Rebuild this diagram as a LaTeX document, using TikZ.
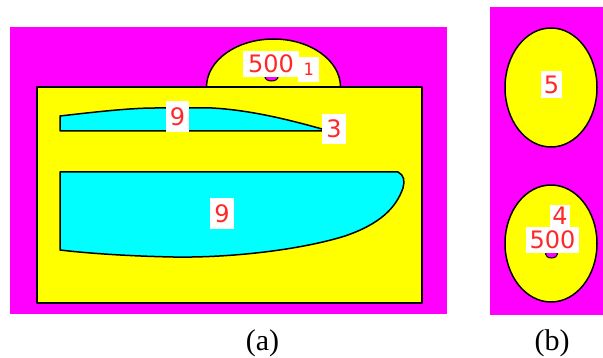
\documentclass[tikz,border=0pt]{standalone}
\usepackage{fontspec}
\setmainfont{Liberation Serif}
\newfontfamily\lblsans{DejaVu Sans}
\newfontfamily\lblmono{DejaVu Sans Mono}
\definecolor{mag}{RGB}{255,0,255}
\definecolor{yel}{RGB}{255,255,0}
\definecolor{cya}{RGB}{0,255,255}
\definecolor{lblred}{RGB}{255,40,40}
\tikzset{
  outl/.style={draw=black,line width=1.5pt,line join=round},
  lbl/.style={fill=white,text=lblred,inner sep=0pt,font=\lblsans\fontsize{24}{24}\selectfont},
  captxt/.style={inner sep=0pt,font=\fontsize{30}{30}\selectfont,anchor=base}
}
\begin{document}
\begin{tikzpicture}[x=1pt,y=-1pt]
\useasboundingbox (0,0) rectangle (603,358);
% panel (a)
\fill[mag] (10,27) rectangle (447,314);
\draw[outl,fill=yel] (206.5,87) arc[start angle=180,end angle=360,x radius=67,y radius=48];
\draw[outl,fill=yel] (37,87) rectangle (422,303);
% thin cyan shape
\draw[outl,fill=cya] (60,131) -- (60,116)
  .. controls (95,112) and (130,108) .. (155,108)
  -- (212,108)
  .. controls (250,110) and (290,120) .. (322,129)
  -- (322,131) -- cycle;
% big cyan shape
\draw[outl,fill=cya] (60,250) -- (60,172) -- (398,172)
  .. controls (404,175) and (405,181) .. (403,188)
  .. controls (396,208) and (380,224) .. (345,236)
  .. controls (300,250) and (230,258) .. (173,257)
  .. controls (125,256) and (85,253) .. (60,250) -- cycle;
\draw[black,line width=1pt,fill=mag] (271.5,77) ellipse[x radius=6.5,y radius=4];
\node[lbl,minimum width=56,minimum height=26] (a500) at (271,64) {500};
\node[lbl,minimum width=21,minimum height=25,font=\lblmono\fontsize{17}{17}\selectfont] (a1) at (308.5,69.5) {1};
\node[lbl,minimum width=23,minimum height=31] (a9top) at (177.5,116.5) {9};
\node[lbl,minimum width=24,minimum height=30] (a3) at (334,129) {3};
\node[lbl,minimum width=24,minimum height=31] (a9big) at (222,213.5) {9};
\node[captxt] (capa) at (262.5,351) {(a)};
% panel (b)
\fill[mag] (490,7) rectangle (603,315);
\draw[outl,fill=yel] (551,87.5) ellipse[x radius=46,y radius=59.5];
\draw[outl,fill=yel] (551,243.5) ellipse[x radius=46,y radius=58.5];
\draw[black,line width=1pt,fill=mag] (551.5,254) ellipse[x radius=6,y radius=4];
\node[lbl,minimum width=21,minimum height=27] (b5) at (551.5,84.5) {5};
\node[lbl,minimum width=20,minimum height=22] (b4) at (560,216) {4};
\node[lbl,minimum width=53,minimum height=26] (b500) at (552.5,240) {500};
\node[captxt] (capb) at (552,351) {(b)};
\end{tikzpicture}
\end{document}
